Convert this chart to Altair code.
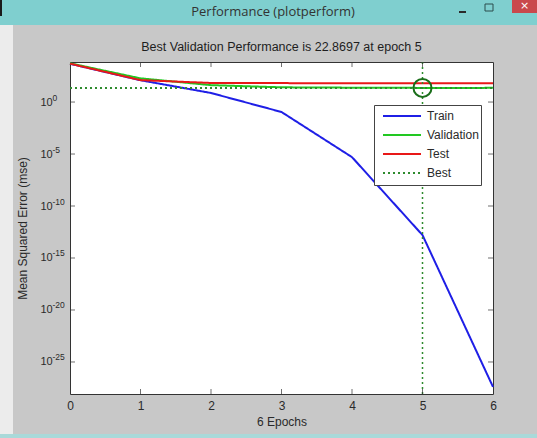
import altair as alt
import pandas as pd

# ---------------- data ----------------
epochs = [0, 1, 2, 3, 4, 5, 6]
train = [4800, 125, 7.4, 0.11, 5e-6, 1.6e-13, 4e-28]
validation = [5300, 190, 42, 26, 24, 22.8697, 23.0]
test = [4900, 128, 68, 66, 64, 64, 64]
best_epoch = 5
best_value = 22.8697
series_names = ["Train", "Validation", "Test", "Best"]
series_colors = ["#1f1fe6", "#22c822", "#e81818", "#2e8b2e"]
series_dashes = [[1, 0], [1, 0], [1, 0], [2, 3]]
y_tick_exps = [0, -5, -10, -15, -20, -25]
x_ticks = [0, 1, 2, 3, 4, 5, 6]
y_lo_exp, y_hi_exp = -28.08, 3.85
window_title = "Performance (plotperform)"
subtitle = "Best Validation Performance is 22.8697 at epoch 5"

FONT = "Liberation Sans"
TXT = "#2a2a2a"

rows = []
for name, vals in [("Train", train), ("Validation", validation), ("Test", test)]:
    for e, v in zip(epochs, vals):
        rows.append({"epoch": e, "value": v, "series": name})
for e in [epochs[0], epochs[-1]]:
    rows.append({"epoch": e, "value": best_value, "series": "Best"})
lines_df = pd.DataFrame(rows)

y_min, y_max = 10 ** y_lo_exp, 10 ** y_hi_exp
xscale = alt.Scale(domain=[epochs[0], epochs[-1]], nice=False, zero=False)
yscale = alt.Scale(type="log", domain=[y_min, y_max], nice=False)

ytick_df = pd.DataFrame({"value": [10.0 ** e for e in y_tick_exps],
                         "exp": [str(e) for e in y_tick_exps]})
xtick_df = pd.DataFrame({"epoch": x_ticks[1:-1]})

x_axis = alt.Axis(values=x_ticks, format="d", ticks=False, domain=False, grid=False,
                  labelFlush=False,
                  labelPadding=6, labelFontSize=12, labelFont=FONT, labelColor=TXT,
                  title="6 Epochs", titleFontSize=12, titleFont=FONT, titleColor=TXT,
                  titleFontWeight="normal", titlePadding=5)
y_axis = alt.Axis(values=[10.0 ** e for e in y_tick_exps], labelExpr="'10'",
                  labelAlign="left", labelPadding=30, labelBaseline="middle",
                  ticks=False, domain=False, grid=False,
                  labelFontSize=11, labelFont=FONT, labelColor=TXT,
                  title="Mean Squared Error  (mse)", titleFontSize=12, titleFont=FONT,
                  titleColor=TXT, titleFontWeight="normal", titlePadding=11)

legend = alt.Legend(title=None, labelExpr="datum.label + '\u2003'")
lines = alt.Chart(lines_df).mark_line(strokeWidth=2).encode(
    x=alt.X("epoch:Q", scale=xscale, axis=x_axis),
    y=alt.Y("value:Q", scale=yscale, axis=y_axis),
    color=alt.Color("series:N", scale=alt.Scale(domain=series_names, range=series_colors),
                    legend=legend),
    strokeDash=alt.StrokeDash("series:N", scale=alt.Scale(domain=series_names, range=series_dashes),
                              legend=legend),
    detail="series:N",
)

vrule = alt.Chart(alt.Data(values=[{"epoch": best_epoch}])).mark_rule(
    color=series_colors[3], strokeDash=[2, 3], strokeWidth=1.5
).encode(x=alt.X("epoch:Q", scale=xscale))

circle = alt.Chart(alt.Data(values=[{"epoch": best_epoch, "value": best_value}])).mark_point(
    shape="circle", size=324, filled=False, strokeWidth=2, color="#1a6e1a", opacity=1
).encode(x=alt.X("epoch:Q", scale=xscale), y=alt.Y("value:Q", scale=yscale))

exps = alt.Chart(ytick_df).mark_text(align="left", baseline="middle", dx=-17.5, dy=-4.5,
                                     fontSize=8.5, font=FONT, color=TXT).encode(
    x=alt.datum(0), y=alt.Y("value:Q", scale=yscale), text="exp:N")

tick_style = dict(thickness=1, size=5, color="#333")
yt_left = alt.Chart(ytick_df).mark_tick(orient="horizontal", xOffset=2.5, **tick_style).encode(
    x=alt.datum(epochs[0]), y=alt.Y("value:Q", scale=yscale))
yt_right = alt.Chart(ytick_df).mark_tick(orient="horizontal", xOffset=-2.5, **tick_style).encode(
    x=alt.datum(epochs[-1]), y=alt.Y("value:Q", scale=yscale))
xt_bot = alt.Chart(xtick_df).mark_tick(orient="vertical", yOffset=-2.5, **tick_style).encode(
    x=alt.X("epoch:Q", scale=xscale), y=alt.datum(y_min))
xt_top = alt.Chart(xtick_df).mark_tick(orient="vertical", yOffset=2.5, **tick_style).encode(
    x=alt.X("epoch:Q", scale=xscale), y=alt.datum(y_max))

# ---------------- window chrome ----------------
one = alt.Data(values=[{"k": 1}])
def box(x, x2, y, y2, **kw):
    return alt.Chart(one).mark_rect(**kw).encode(
        x=alt.value(x - 70), x2=alt.value(x2 - 70), y=alt.value(y - 62), y2=alt.value(y2 - 62))

chrome = [
    box(0, 13, 0, 438, color="#ececec"),
    box(0, 537, 0, 25, color="#7fcfcf"),
    box(0, 537, 434, 438, color="#a9d9d9"),
    box(0, 2, 0, 16, color="#1a1a1a"),
    box(512, 537, 0, 13, color="#c9484c"),
    box(485, 493, 4, 11, fill="#7fcfcf", stroke="#2d4d4d", strokeWidth=1),
    box(459, 466, 11, 13, color="#2a2a2a"),
]
close_x = alt.Chart(one).mark_text(text="×", fontSize=11, color="white", font="DejaVu Sans").encode(
    x=alt.value(524.5 - 70), y=alt.value(6 - 62))
title_text = alt.Chart(one).mark_text(text=window_title, fontSize=13, font="Open Sans",
                                      color="#333").encode(
    x=alt.value(273 - 70), y=alt.value(12 - 62))
subtitle_text = alt.Chart(one).mark_text(text=subtitle, fontSize=12.5, font=FONT,
                                         color="#1e1e1e").encode(
    x=alt.value(211.5), y=alt.value(47 - 62))

chart = alt.layer(
    *chrome, close_x, title_text, subtitle_text,
    lines, vrule, circle, exps, yt_left, yt_right, xt_bot, xt_top
).properties(
    width=423, height=332,
    padding={"left": 70, "top": 62, "right": 44, "bottom": 44},
    autosize=alt.AutoSizeParams(type="none"),
).configure(background="#c8c8c8").configure_view(
    stroke="#333", strokeWidth=1, fill="white"
).configure_legend(
    orient="none", legendX=304, legendY=43, fillColor="white", strokeColor="#444",
    padding=2, symbolType="stroke", symbolSize=1444, symbolStrokeWidth=2,
    labelFontSize=12, labelFont=FONT, labelColor=TXT, labelOffset=5,
    clipHeight=18.2, rowPadding=0, symbolOffset=6, cornerRadius=0
)

chart.save("out.html", embed_options={"renderer": "svg", "actions": False})
